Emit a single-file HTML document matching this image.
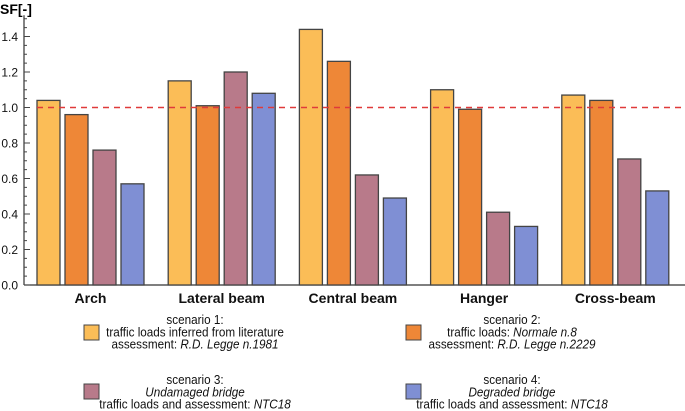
<!DOCTYPE html>
<html><head><meta charset="utf-8"><style>
body{margin:0;background:#fff}
svg{display:block;font-family:"Liberation Sans",Arial,sans-serif}
</style></head><body>
<svg id="c" width="685" height="411" viewBox="0 0 685 411">
<text x="0" y="14" font-size="14" font-weight="bold">SF[-]</text>
<g id="axes"></g><g id="bars"></g>
</svg>
<script>
const categories=["Arch","Lateral beam","Central beam","Hanger","Cross-beam"];
const s1=[1.04,1.15,1.44,1.10,1.07];
const s2=[0.96,1.01,1.26,0.99,1.04];
const s3=[0.76,1.20,0.62,0.41,0.71];
const s4=[0.57,1.08,0.49,0.33,0.53];
const yTicks=[0,0.2,0.4,0.6,0.8,1.0,1.2,1.4];
const threshold=1.0;
const colors=["#fbbd57","#ee8737","#b87a8a","#7f8fd4"];
const NS="http://www.w3.org/2000/svg";
const y0=285,k=177.5;
const Y=v=>y0-v*k;
const X=(g,i)=>37+g*131.2+i*28;
function mk(t,a,p){const e=document.createElementNS(NS,t);for(const n in a)e.setAttribute(n,a[n]);p.appendChild(e);return e;}
const ax=document.getElementById('axes'),bg=document.getElementById('bars');
const yl=mk('line',{x1:24,y1:Y(1.52),x2:24,y2:y0,stroke:'#333','stroke-width':1.2},ax);


const xl=mk('line',{x1:24,y1:y0,x2:685,y2:y0,stroke:'#333','stroke-width':1.2},ax);


for(let v=0;v<=1.5001;v+=0.05){const major=Math.abs(v/0.2-Math.round(v/0.2))<1e-6;
mk('line',{x1:24,x2:major?30:27,y1:Y(v),y2:Y(v),stroke:'#444','stroke-width':1},ax);}
yTicks.forEach(v=>{const t=mk('text',{x:18,y:Y(v)+4.5,'font-size':12,'text-anchor':'end',fill:'#111'},ax);t.textContent=v.toFixed(1);

});
const series=[s1,s2,s3,s4];
categories.forEach((c,g)=>{series.forEach((s,i)=>{const r=mk('rect',{x:X(g,i),y:Y(s[g]),width:23,height:y0-Y(s[g]),fill:colors[i],stroke:'#444','stroke-width':1.3},bg);

});
const t=mk('text',{x:X(g,0)+53.5,y:303,'font-size':14,'font-weight':'bold','text-anchor':'middle',fill:'#111'},ax);t.textContent=c;

});
const th=mk('line',{x1:37,x2:682,y1:Y(threshold),y2:Y(threshold),stroke:'#e03a3a','stroke-width':1.5,'stroke-dasharray':'6,5'},bg);


const legend=[
 [84,195,325,324,[["scenario 1:"],["traffic loads inferred from literature"],["assessment: ","R.D. Legge n.1981"]]],
 [406,512,325,324,[["scenario 2:"],["traffic loads: ","Normale n.8"],["assessment: ","R.D. Legge n.2229"]]],
 [84,195,384,384,[["scenario 3:"],["","Undamaged bridge"],["traffic loads and assessment: ","NTC18"]]],
 [406,512,384,384,[["scenario 4:"],["","Degraded bridge"],["traffic loads and assessment: ","NTC18"]]]];
legend.forEach((L,i)=>{const g=mk('g',{},bg);


mk('rect',{x:L[0],y:L[2],width:15,height:15,fill:colors[i],stroke:'#444','stroke-width':1},g);
const tg=mk('g',{transform:'translate('+L[1]+',0) scale(0.9,1)'},g);
L[4].forEach((ln,j)=>{const t=mk('text',{x:0,y:L[3]+j*12.3,'font-size':13,'text-anchor':'middle',fill:'#111'},tg);
const a=mk('tspan',{},t);a.textContent=ln[0];
if(ln[1]){const b=mk('tspan',{'font-style':'italic'},t);b.textContent=ln[1];}});});
</script>
</body></html>
